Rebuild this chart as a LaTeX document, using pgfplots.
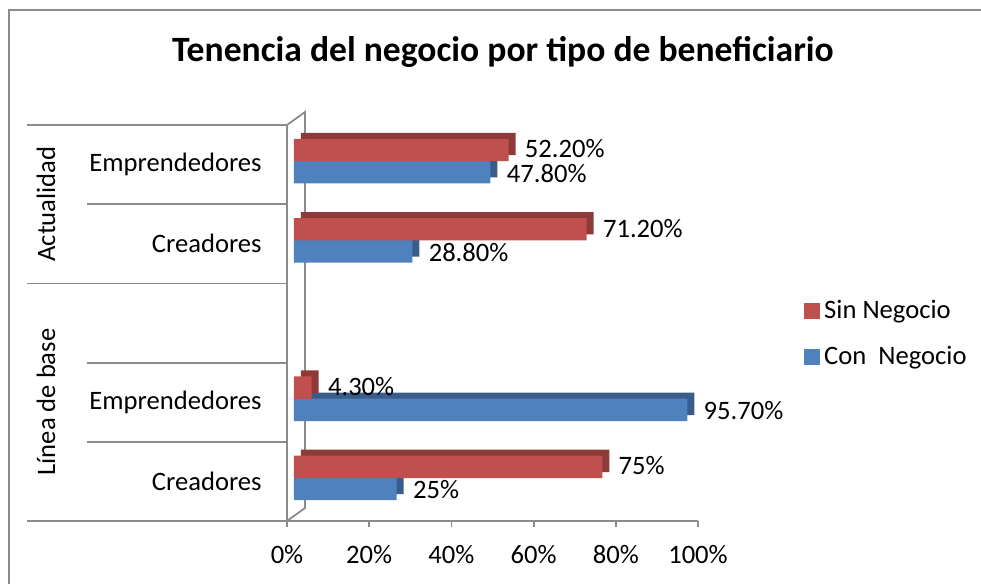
\documentclass[border=0pt]{standalone}
\usepackage{fontspec}
\setmainfont{Carlito}
\usepackage{pgfplots}
\usepackage{pgfplotstable}
\pgfplotsset{compat=1.18}

\definecolor{sinF}{HTML}{C0504D}
\definecolor{sinD}{HTML}{8E3A38}
\definecolor{conF}{HTML}{4F81BD}
\definecolor{conD}{HTML}{385D8A}
\definecolor{axgray}{HTML}{8C8C8C}

% 0 = Creadores (LB), 1 = Emprendedores (LB), 2 = empty, 3 = Creadores (Act.), 4 = Emprendedores (Act.)
\pgfplotstableread{
pos val lab
0 25   25
1 95.7 95.70
3 28.8 28.80
4 47.8 47.80
}\connegocio
\pgfplotstableread{
pos val lab
0 75   75
1 4.3  4.30
3 71.2 71.20
4 52.2 52.20
}\sinnegocio

\newcommand{\lbl}{\fontsize{13.3}{16}\selectfont}

\begin{document}
\begin{tikzpicture}
\begin{scope}[x=0.5pt,y=-0.5pt]
\useasboundingbox (0,0) rectangle (981,584);
% frame
\draw[axgray, line width=0.8pt] (9,584) -- (9,10) -- (981,10);
% title
\node[anchor=base, font=\fontsize{17.8}{20}\selectfont\bfseries] at (503,61.7)
  {Tenencia del negocio por tipo de beneficiario};
% category separators
\begin{scope}[axgray, line width=0.9pt]
\draw (27,125) -- (287,125);
\draw (87,204.2) -- (287,204.2);
\draw (27,283.4) -- (287,283.4);
\draw (87,362.6) -- (287,362.6);
\draw (87,441.8) -- (287,441.8);
\draw (27,521) -- (287,521);
\draw (287,125) -- (287,527);
\draw (287,125) -- (305,112) -- (305,508) -- (287,521);
\draw (287,521) -- (698,521);
\foreach \t in {0,1,...,5} \draw (287+82.2*\t,521) -- (287+82.2*\t,527);
\end{scope}
\node[rotate=90, font=\lbl] at (46,204) {Actualidad};
\node[rotate=90, font=\lbl] at (46,402) {Línea de base};
\end{scope}

\begin{axis}[
  at={(143.5pt,-260.5pt)}, anchor=south west,
  scale only axis, width=205.5pt, height=198pt,
  xbar, bar width=11.2pt,
  xmin=0, xmax=100, ymin=-0.5, ymax=4.5,
  clip=false,
  axis line style={draw=none}, major tick length=0pt,
  xtick={0,20,40,60,80,100},
  xticklabels={0\%,20\%,40\%,60\%,80\%,100\%},
  ytick={0,1,3,4},
  yticklabels={Creadores,Emprendedores,Creadores,Emprendedores},
  xticklabel style={font=\lbl, anchor=base, inner sep=0pt, yshift=-21pt},
  yticklabel style={font=\lbl, anchor=east, inner sep=0pt, xshift=-12.5pt},
  point meta=explicit symbolic,
  legend style={draw=none, fill=none, at={(1.258,0.472)}, anchor=west,
    font=\lbl, row sep=8.5pt, inner sep=0pt,
    nodes={inner sep=2pt}},
  legend cell align=left,
]
% depth faces
\addplot[forget plot, draw=none, fill=conD, bar shift=-3.8pt, xshift=7pt, yshift=3pt]
  table[x=val, y=pos] \connegocio;
\addplot[forget plot, draw=none, fill=sinD, bar shift=7.3pt, xshift=7pt, yshift=3pt]
  table[x=val, y=pos] \sinnegocio;
% front faces
\addplot[forget plot, draw=none, fill=conF, bar shift=-3.8pt, xshift=3.5pt,
  nodes near coords={\pgfplotspointmeta\%},
  nodes near coords style={font=\lbl, anchor=west, inner sep=0pt, xshift=8pt, yshift=-0.5pt, text=black}]
  table[x=val, y=pos, meta=lab] \connegocio;
\addplot[forget plot, draw=none, fill=sinF, bar shift=7.3pt, xshift=3.5pt,
  nodes near coords={\pgfplotspointmeta\%},
  nodes near coords style={font=\lbl, anchor=west, inner sep=0pt, xshift=8pt, yshift=0.5pt, text=black}]
  table[x=val, y=pos, meta=lab] \sinnegocio;
\addlegendimage{legend image code/.code={\fill[sinF] (0pt,-3.7pt) rectangle (7.5pt,3.7pt);}}
\addlegendentry{Sin Negocio}
\addlegendimage{legend image code/.code={\fill[conF] (0pt,-3.7pt) rectangle (7.5pt,3.7pt);}}
\addlegendentry{Con\ \ Negocio}
\end{axis}
\end{tikzpicture}
\end{document}
